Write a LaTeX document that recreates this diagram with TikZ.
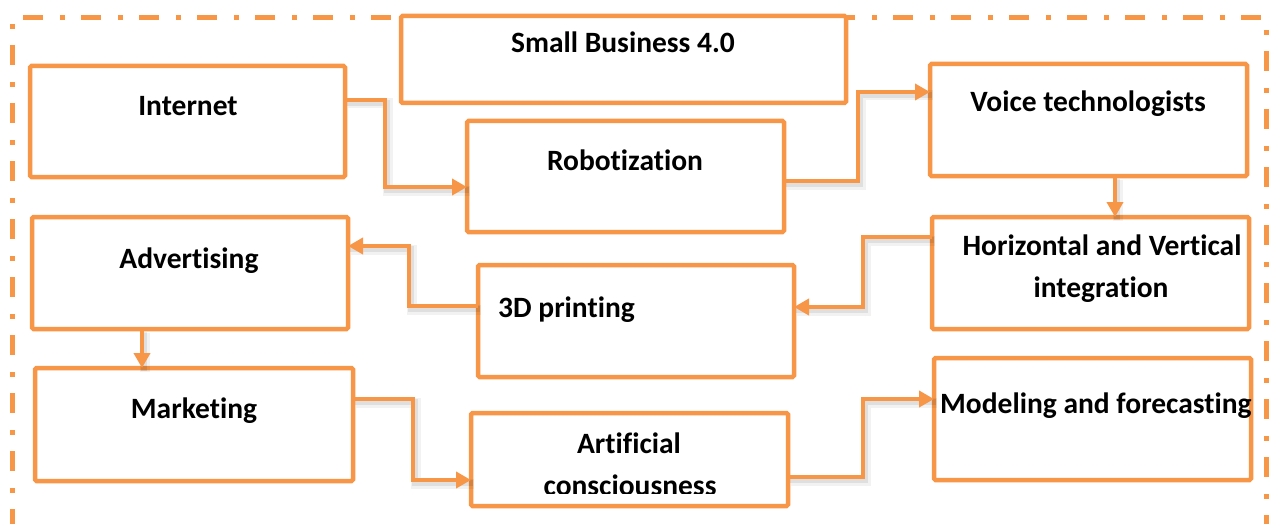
\documentclass[tikz,border=0pt]{standalone}
\usepackage{fontspec}
\setmainfont{Carlito}[Ligatures=NoCommon]
\usetikzlibrary{arrows.meta}
\definecolor{accent}{HTML}{F79646}
\tikzset{
  box/.style={draw=accent, line width=4.5pt, rounded corners=1.5pt, fill=white,
    anchor=north west, inner sep=0pt, outer sep=0pt},
  lbl/.style={anchor=base, inner sep=0pt, font=\bfseries\fontsize{29.5}{42}\selectfont},
  conn/.style={draw=accent, line width=4.5pt, line join=miter,
    -{Triangle[length=15pt,width=16pt]},
    preaction={draw=black, opacity=0.05, line width=10pt, arrows=-,
      transform canvas={shift={(2.5pt,-3.5pt)}}},
    preaction={draw=black, opacity=0.08, line width=6pt, arrows=-,
      transform canvas={shift={(2pt,-3pt)}}}},
  frame/.style={draw=accent, line width=5pt,
    dash pattern=on 20pt off 17pt on 5pt off 16pt}
}
\begin{document}
\begin{tikzpicture}[x=1pt, y=-1pt]
\useasboundingbox (0,0) rectangle (1276,524);
\clip (0,0) rectangle (1276,524);

% dash-dot outer frame (its lower edge runs past the page)
\draw[frame, dash phase=47pt] (12,18) -- (1266,18) -- (1266,560);
\draw[frame, dash phase=31pt] (12,18) -- (12,560);

% boxes
\node[box, minimum width=445pt, minimum height=87pt]  (small)  at (401,16)  {};
\node[box, minimum width=315pt, minimum height=111pt] (inet)   at (30,66)   {};
\node[box, minimum width=317pt, minimum height=111pt] (robot)  at (467,121) {};
\node[box, minimum width=317pt, minimum height=112pt] (voice)  at (930,64)  {};
\node[box, minimum width=317pt, minimum height=112pt] (horiz)  at (932,217) {};
\node[box, minimum width=316pt, minimum height=112pt] (advert) at (32,217)  {};
\node[box, minimum width=316pt, minimum height=112pt] (print)  at (478,265) {};
\node[box, minimum width=318pt, minimum height=113pt] (market) at (35,368)  {};
\node[box, minimum width=317pt, minimum height=93pt]  (artif)  at (471,413) {};
\node[box, minimum width=317pt, minimum height=122pt] (model)  at (934,358) {};

% labels
\node[lbl] (small-t)  at (623,53)   {Small Business 4.0};
\node[lbl] (inet-t)   at (188,116)  {Internet};
\node[lbl] (robot-t)  at (625,170)  {Robotization};
\node[lbl] (voice-t)  at (1088,112) {Voice technologists};
\node[lbl] (horiz-t1) at (1102,255) {Horizontal and Vertical};
\node[lbl] (horiz-t2) at (1101,297) {integration};
\node[lbl] (advert-t) at (189,268)  {Advertising};
\node[lbl, anchor=base west] (print-t) at (498,317) {3D printing};
\node[lbl] (market-t) at (194,418)  {Marketing};
\node[lbl] (artif-t1) at (629,453)  {Artificial};
\begin{scope}
  \clip (471,413) rectangle (788,493);
  \node[lbl] (artif-t2) at (630,495) {consciousness};
\end{scope}
\node[lbl, anchor=base west] (model-t) at (940,413) {Modeling and forecasting};

% connectors
\draw[conn] (inet.east |- 0,100) -- (385,100) |- (robot.west |- 0,187);
\draw[conn] (robot.east |- 0,181) -- (858,181) |- (voice.west |- 0,92);
\draw[conn] (voice.south -| 1115,0) -- (horiz.north -| 1115,0);
\draw[conn] (horiz.west |- 0,237) -- (863,237) |- (print.east |- 0,307);
\draw[conn] (print.west |- 0,306) -- (409,306) |- (advert.east |- 0,246);
\draw[conn] (advert.south -| 142,0) -- (market.north -| 142,0);
\draw[conn] (market.east |- 0,399) -- (413,399) |- (artif.west |- 0,480);
\draw[conn] (artif.east |- 0,477) -- (863,477) |- (model.west |- 0,399);
\end{tikzpicture}
\end{document}
